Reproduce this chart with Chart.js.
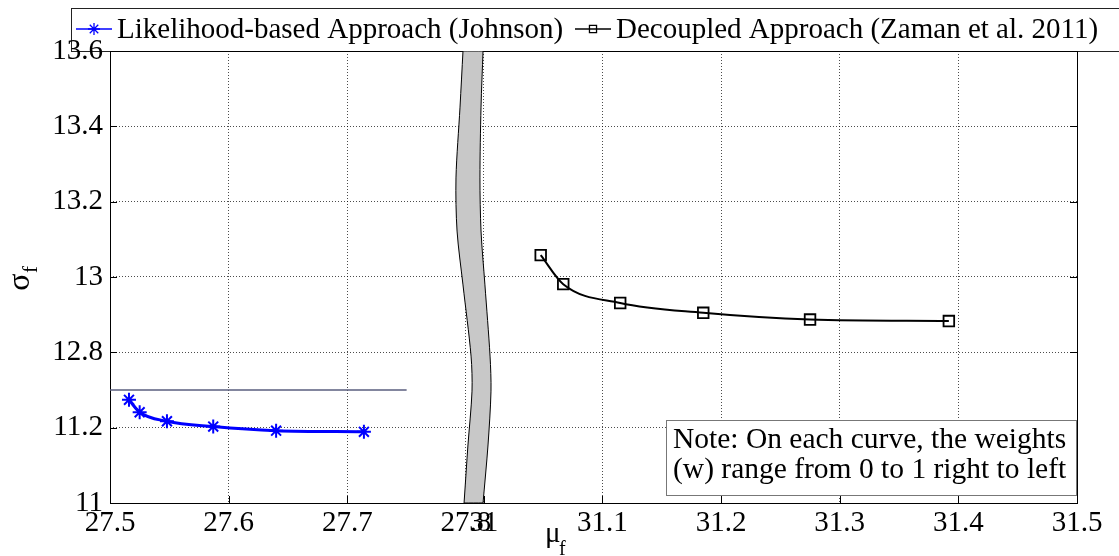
<!DOCTYPE html>
<html>
<head>
<meta charset="utf-8">
<script src="https://cdn.jsdelivr.net/npm/chart.js@4.4.0/dist/chart.umd.min.js"></script>
<style>
  html, body { margin: 0; padding: 0; background: #fff; }
  #wrap { width: 1119px; height: 556px; position: relative; }
</style>
</head>
<body>
<div id="wrap"><canvas id="chart"></canvas></div>
<script>
// Likelihood-based approach (Johnson) -- lower-left panel
const likeMu = [27.516, 27.525, 27.548, 27.587, 27.640, 27.714];
const likeSigma = [11.274, 11.241, 11.217, 11.203, 11.192, 11.189];

// Decoupled approach (Zaman et al. 2011) -- upper-right panel
const decMu = [31.048, 31.067, 31.115, 31.185, 31.275, 31.392];
const decSigma = [13.058, 12.981, 12.931, 12.905, 12.887, 12.883];

const xTicksLeft = [27.5, 27.6, 27.7, 27.8];
const xTicksRight = [31, 31.1, 31.2, 31.3, 31.4, 31.5];
const yTicksLow = [11, 11.2];
const yTicksHigh = [12.8, 13, 13.2, 13.4, 13.6];

const legendLabels = ['Likelihood-based Approach (Johnson)', 'Decoupled Approach (Zaman et al. 2011)'];
const noteLines = ['Note: On each curve, the weights', '(w) range from 0 to 1 right to left'];

// axis breaks: x jumps 27.8 -> 31, y jumps 11.3 -> 12.7
const X_BREAK = 27.8, X_RESUME = 31, X_GAP = 0.015;
const Y_BREAK = 11.3, Y_RESUME = 12.7;

// break marker band, in compressed axis units
const bandY = [12.2, 12.051, 11.863, 11.722, 11.579, 11.39, 11.297, 11.154, 11.0];
const bandLeft = [27.7975, 27.795, 27.7916, 27.7925, 27.7975, 27.8043, 27.8051, 27.8017, 27.7984];
const bandRight = [27.8144, 27.8127, 27.8118, 27.8127, 27.816, 27.8203, 27.8211, 27.8186, 27.8144];

const fx = v => v <= X_BREAK + 1e-9 ? v : X_BREAK + X_GAP + (v - X_RESUME);
const fy = v => v <= Y_BREAK + 1e-9 ? v : Y_BREAK + (v - Y_RESUME);
const lx = t => t <= X_BREAK + 1e-6 ? t : t - X_BREAK - X_GAP + X_RESUME;
const ly = t => t <= Y_BREAK + 1e-6 ? t : t - Y_BREAK + Y_RESUME;
const fmt = v => String(Number(v.toFixed(2)));

const SERIF = '"Liberation Serif", "Times New Roman", serif';

// closed outline; corners doubled so the spline stays sharp there
const leftEdge = bandY.map((y, i) => ({ x: bandLeft[i], y }));
const rightEdge = bandY.map((y, i) => ({ x: bandRight[i], y })).reverse();
const bandPoly = [leftEdge[0], ...leftEdge, leftEdge[leftEdge.length - 1],
  rightEdge[0], ...rightEdge, rightEdge[rightEdge.length - 1], leftEdge[0]];

const decor = {
  id: 'decor',
  beforeDraw(chart) {
    const { ctx, chartArea: a } = chart;
    const ds = chart.data.datasets;
    ctx.save();
    // legend box (tick labels are drawn over it afterwards)
    ctx.strokeStyle = '#222';
    ctx.lineWidth = 1;
    ctx.strokeRect(71.5, 8.5, 1060, a.top - 8);
    ctx.font = '29px ' + SERIF;
    ctx.textBaseline = 'middle';
    ctx.textAlign = 'left';
    const items = [{ x0: 76, i: 0 }, { x0: 575, i: 1 }];
    items.forEach(({ x0, i }) => {
      const d = ds[i];
      const yy = 29;
      ctx.strokeStyle = d.borderColor;
      ctx.lineWidth = 1.5;
      ctx.beginPath(); ctx.moveTo(x0, yy); ctx.lineTo(x0 + 36, yy); ctx.stroke();
      ctx.fillStyle = 'rgba(0,0,0,0)';
      ctx.strokeStyle = d.pointBorderColor;
      ctx.lineWidth = 1.3;
      Chart.helpers.drawPoint(ctx, { pointStyle: d.pointStyle, radius: d.pointStyle === 'rect' ? 5 : 6, borderWidth: 1.3, rotation: 0 }, x0 + 18, yy);
      ctx.fillStyle = '#000';
      ctx.fillText(legendLabels[i], x0 + 41, yy + 1);
    });
    ctx.restore();
  },
  beforeDatasetsDraw(chart) {
    const { ctx, chartArea: a, scales } = chart;
    ctx.save();
    ctx.strokeStyle = '#000';
    ctx.lineWidth = 1;
    ctx.strokeRect(a.left + 0.5, a.top + 0.5, a.right - a.left, a.bottom - a.top);
    // inward tick marks
    ctx.beginPath();
    scales.x.ticks.forEach(t => {
      const px = Math.round(scales.x.getPixelForValue(t.value)) + 0.5;
      ctx.moveTo(px, a.bottom); ctx.lineTo(px, a.bottom - 7);
    });
    scales.y.ticks.forEach(t => {
      const py = Math.round(scales.y.getPixelForValue(t.value)) + 0.5;
      ctx.moveTo(a.left, py); ctx.lineTo(a.left + 7, py);
      ctx.moveTo(a.right, py); ctx.lineTo(a.right - 7, py);
    });
    ctx.stroke();
    ctx.restore();
  },
  afterDraw(chart) {
    const { ctx } = chart;
    ctx.save();
    // note box
    ctx.fillStyle = '#fff';
    ctx.fillRect(666, 420, 410, 75);
    ctx.strokeStyle = '#777';
    ctx.lineWidth = 1;
    ctx.strokeRect(666.5, 420.5, 410, 75);
    ctx.fillStyle = '#000';
    ctx.font = '29.5px ' + SERIF;
    ctx.textAlign = 'left';
    ctx.textBaseline = 'alphabetic';
    ctx.fillText(noteLines[0], 673, 448);
    ctx.fillText(noteLines[1], 673, 478);

    // axis titles
    ctx.font = '29px ' + SERIF;
    ctx.fillText('\u03bc', 545, 542);
    ctx.font = '20px ' + SERIF;
    ctx.fillText('f', 559, 555);

    ctx.translate(29, 282);
    ctx.rotate(-Math.PI / 2);
    ctx.font = '32px ' + SERIF;
    ctx.textAlign = 'center';
    ctx.fillText('\u03c3', 0, 0);
    ctx.font = '21px ' + SERIF;
    ctx.textAlign = 'left';
    ctx.fillText('f', 9, 8);
    ctx.restore();
  }
};

new Chart(document.getElementById('chart'), {
  type: 'scatter',
  data: {
    datasets: [
      {
        label: legendLabels[0],
        data: likeMu.map((m, i) => ({ x: fx(m), y: fy(likeSigma[i]) })),
        showLine: true,
        borderColor: '#0000ff',
        borderWidth: 3,
        pointStyle: 'star',
        pointRadius: 7,
        pointBorderColor: '#0000ff',
        pointBorderWidth: 2,
        cubicInterpolationMode: 'monotone'
      },
      {
        label: legendLabels[1],
        data: decMu.map((m, i) => ({ x: fx(m), y: fy(decSigma[i]) })),
        showLine: true,
        borderColor: '#000',
        borderWidth: 2,
        pointStyle: 'rect',
        pointRadius: 7.5,
        pointBackgroundColor: 'rgba(0,0,0,0)',
        pointBorderColor: '#000',
        pointBorderWidth: 1.8,
        cubicInterpolationMode: 'monotone'
      },
      {
        label: 'y break',
        data: [{ x: 27.5, y: Y_BREAK }, { x: 27.75, y: Y_BREAK }],
        showLine: true,
        borderColor: '#5a5e7e',
        borderWidth: 1.5,
        pointRadius: 0
      },
      {
        label: 'x break',
        data: bandPoly,
        showLine: true,
        fill: 'shape',
        backgroundColor: '#c8c8c8',
        borderColor: '#000',
        borderWidth: 1,
        pointRadius: 0,
        tension: 0.3
      }
    ]
  },
  options: {
    responsive: true,
    maintainAspectRatio: false,
    animation: false,
    layout: { padding: { top: 51, right: 42, left: 0, bottom: 0 } },
    plugins: { legend: { display: false }, tooltip: { enabled: false } },
    scales: {
      x: {
        type: 'linear',
        min: fx(27.5),
        max: fx(31.5),
        afterBuildTicks: s => { s.ticks = xTicksLeft.concat(xTicksRight).map(v => ({ value: fx(v) })); },
        afterFit: s => { s.height = 53; },
        grid: { color: 'rgba(0,0,0,0.7)', drawTicks: false },
        border: { display: false, dash: [1, 2] },
        ticks: {
          autoSkip: false, maxRotation: 0, minRotation: 0, padding: 3,
          color: '#000', font: { family: SERIF, size: 29 },
          callback: v => fmt(lx(v))
        }
      },
      y: {
        type: 'linear',
        min: 11,
        max: fy(13.6),
        afterBuildTicks: s => { s.ticks = yTicksLow.concat(yTicksHigh).map(v => ({ value: fy(v) })); },
        afterFit: s => { s.width = 110; },
        grid: { color: 'rgba(0,0,0,0.7)', drawTicks: false },
        border: { display: false, dash: [1, 2] },
        ticks: {
          autoSkip: false, padding: 7,
          color: '#000', font: { family: SERIF, size: 29 },
          callback: v => fmt(ly(v))
        }
      }
    }
  },
  plugins: [decor]
});
</script>
</body>
</html>
